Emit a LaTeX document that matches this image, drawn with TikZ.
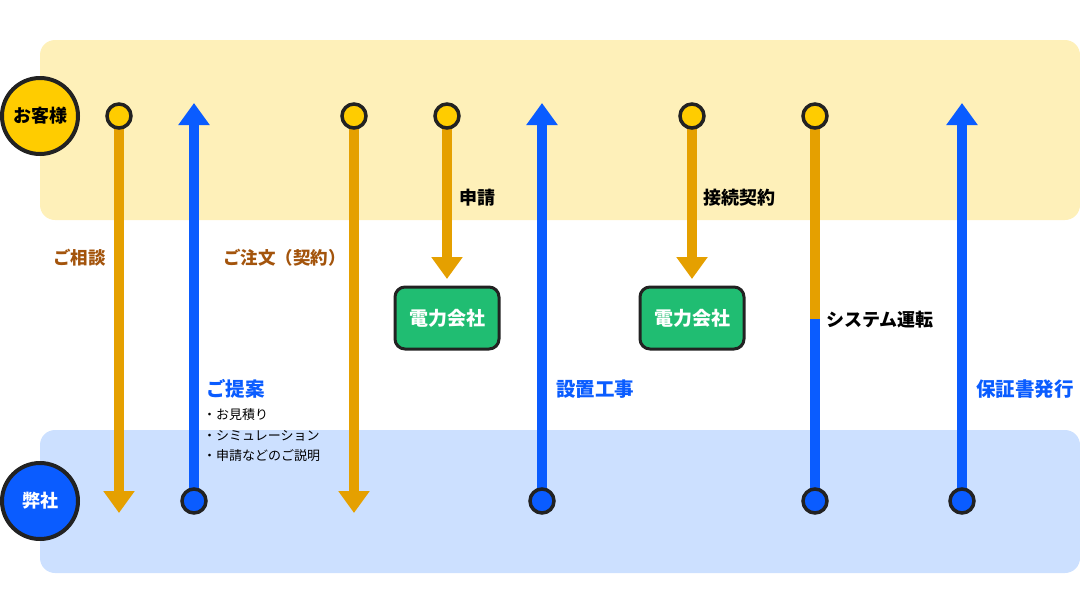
\documentclass[tikz,border=0pt]{standalone}
\usepackage{fontspec}
\setmainfont{Noto Sans CJK JP}
\usetikzlibrary{arrows.meta}
\definecolor{bandY}{HTML}{FEF0B9}
\definecolor{bandB}{HTML}{CCE0FF}
\definecolor{cY}{HTML}{FFCC00}
\definecolor{cO}{HTML}{E5A000}
\definecolor{cB}{HTML}{0A5CFF}
\definecolor{cG}{HTML}{20BD72}
\definecolor{dk}{HTML}{222222}
\definecolor{brn}{HTML}{A3540C}
\pgfdeclarelayer{bands}
\pgfdeclarelayer{lines}
\pgfsetlayers{bands,lines,main}
\tikzset{
  band/.style={rounded corners=15pt, draw=none},
  actor/.style={circle, draw=dk, line width=4pt, minimum size=76pt, inner sep=0pt, font=\fontsize{18}{20}\selectfont\bfseries},
  dotY/.style={circle, draw=dk, line width=3.5pt, fill=cY, minimum size=24pt, inner sep=0pt},
  dotB/.style={circle, draw=dk, line width=3.5pt, fill=cB, minimum size=24pt, inner sep=0pt},
  flowO/.style={draw=cO, line width=10pt, -{Triangle[length=22pt,width=30pt]}},
  flowB/.style={draw=cB, line width=10pt, -{Triangle[length=22pt,width=30pt]}},
  plainO/.style={draw=cO, line width=10pt},
  plainB/.style={draw=cB, line width=10pt},
  company/.style={draw=dk, line width=3pt, fill=cG, rounded corners=10pt, minimum width=104pt, minimum height=62pt, text=white, font=\fontsize{19}{22}\selectfont\bfseries},
  lblO/.style={text=brn, font=\fontsize{17.5}{20}\selectfont\bfseries, inner sep=0pt},
  lblK/.style={text=black, font=\fontsize{18}{21}\selectfont\bfseries, inner sep=0pt},
  lblB/.style={text=cB, font=\fontsize{19.5}{22}\selectfont\bfseries, inner sep=0pt},
  bullet/.style={text=black, font=\fontsize{13}{15}\selectfont, inner sep=0pt, anchor=west},
}
\begin{document}
\begin{tikzpicture}[x=1pt,y=-1pt]
\useasboundingbox (0,0) rectangle (1080,600);
% bands
\begin{pgfonlayer}{bands}
\fill[bandY, band] (40,40) rectangle (1080,220);
\fill[bandB, band] (40,430) rectangle (1080,573);
\end{pgfonlayer}
% actors
\node[actor, fill=cY, text=black] (cust) at (40,116) {お客様};
\node[actor, fill=cB, text=white] (us) at (40,501) {弊社};
% dots
\node[dotY] (d1) at (119,116) {};
\node[dotB] (d2) at (194,501) {};
\node[dotY] (d3) at (354,116) {};
\node[dotY] (d4) at (447,116) {};
\node[dotB] (d5) at (542,501) {};
\node[dotY] (d6) at (692,116) {};
\node[dotY] (d7) at (815,116) {};
\node[dotB] (d7b) at (815,501) {};
\node[dotB] (d8) at (962,501) {};
% companies
\node[company] (pw1) at (447,318) {電力会社};
\node[company] (pw2) at (692,318) {電力会社};
% tips
\coordinate (t1) at (119,513);
\coordinate (t2) at (194,103);
\coordinate (t3) at (354,513);
\coordinate (t4) at (447,279);
\coordinate (t5) at (542,103);
\coordinate (t6) at (692,279);
\coordinate (m7) at (815,319);
\coordinate (t8) at (962,103);
\begin{pgfonlayer}{lines}
\draw[flowO] (d1.center) -- (t1);
\draw[flowB] (d2.center) -- (t2);
\draw[flowO] (d3.center) -- (t3);
\draw[flowO] (d4.center) -- (t4);
\draw[flowB] (d5.center) -- (t5);
\draw[flowO] (d6.center) -- (t6);
\draw[plainO] (d7.center) -- (m7);
\draw[plainB] (m7) -- (d7b.center);
\draw[flowB] (d8.center) -- (t8);
\end{pgfonlayer}
% labels
\node[lblO, anchor=east] (l1) at (106,258) {ご相談};
\node[lblO, anchor=east] (l3) at (346,258) {ご注文（契約）};
\node[lblK, anchor=west] (l4) at (459,198) {申請};
\node[lblK, anchor=west] (l6) at (703,198) {接続契約};
\node[lblK, anchor=west] (l7) at (826,320) {システム運転};
\node[lblB, anchor=west] (l2) at (206,389) {ご提案};
\node[lblB, anchor=west] (l5) at (556,389) {設置工事};
\node[lblB, anchor=west] (l8) at (976,389) {保証書発行};
\node[bullet] (b1) at (203,415) {・お見積り};
\node[bullet] (b2) at (203,436) {・シミュレーション};
\node[bullet] (b3) at (203,456) {・申請などのご説明};
\end{tikzpicture}
\end{document}
